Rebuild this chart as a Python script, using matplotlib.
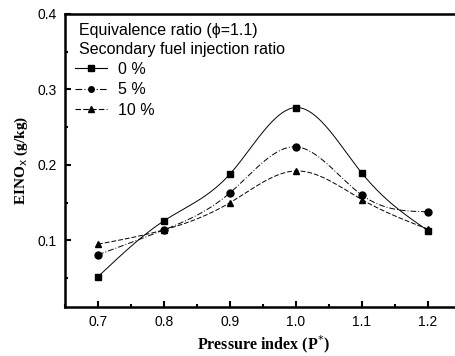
import numpy as np
import matplotlib
matplotlib.use('Agg')
import matplotlib.pyplot as plt
from matplotlib.ticker import MultipleLocator

pressure = [0.7, 0.8, 0.9, 1.0, 1.1, 1.2]
ei_0 = [0.052, 0.126, 0.188, 0.276, 0.189, 0.113]
ei_5 = [0.081, 0.114, 0.163, 0.224, 0.160, 0.138]
ei_10 = [0.095, 0.114, 0.150, 0.192, 0.154, 0.115]
labels = ['0 %', '5 %', '10 %']

plt.rcParams['font.family'] = ['Liberation Sans', 'DejaVu Sans']


def spline(x, y, n=200):
    # natural cubic spline, just for the smooth connecting curve
    x = np.asarray(x, float)
    y = np.asarray(y, float)
    k = len(x)
    h = np.diff(x)
    A = np.zeros((k, k))
    b = np.zeros(k)
    A[0, 0] = A[-1, -1] = 1
    for i in range(1, k - 1):
        A[i, i - 1] = h[i - 1]
        A[i, i] = 2 * (h[i - 1] + h[i])
        A[i, i + 1] = h[i]
        b[i] = 6 * ((y[i + 1] - y[i]) / h[i] - (y[i] - y[i - 1]) / h[i - 1])
    M = np.linalg.solve(A, b)
    xs = np.linspace(x[0], x[-1], n)
    idx = np.clip(np.searchsorted(x, xs) - 1, 0, k - 2)
    x0, x1 = x[idx], x[idx + 1]
    hh = x1 - x0
    t0, t1 = x1 - xs, xs - x0
    ys = (M[idx] * t0**3 + M[idx + 1] * t1**3) / (6 * hh) \
        + (y[idx] / hh - M[idx] * hh / 6) * t0 \
        + (y[idx + 1] / hh - M[idx + 1] * hh / 6) * t1
    return xs, ys


fig = plt.figure(figsize=(4.55, 3.56), dpi=100)
ax = fig.add_axes([0.143, 0.138, 0.87, 0.823])

styles = [('s', '-'), ('o', (0, (6, 2, 1, 2))), ('^', (0, (5, 2)))]
for vals, lab, (m, ls) in zip([ei_0, ei_5, ei_10], labels, styles):
    xs, ys = spline(pressure, vals)
    ax.plot(xs, ys, color='black', lw=0.7, linestyle=ls)
    ax.plot(pressure, vals, linestyle='none', marker=m, color='black', ms=5)
    ax.plot([], [], color='black', lw=0.8, linestyle=ls, marker=m, ms=4, label=lab)

ax.xaxis.set_major_locator(MultipleLocator(0.1))
ax.xaxis.set_minor_locator(MultipleLocator(0.05))
ax.yaxis.set_major_locator(MultipleLocator(0.1))
ax.yaxis.set_minor_locator(MultipleLocator(0.05))
ax.xaxis.set_major_formatter('{x:.1f}')
ax.yaxis.set_major_formatter('{x:.1f}')
ax.tick_params(which='both', direction='in', width=1.5, labelsize=10, pad=6)
ax.tick_params(which='major', length=4)
ax.tick_params(which='minor', length=2.5)
ax.set_xlim(0.65, 1.25)
ax.set_ylim(0.012, 0.4)
for s in ax.spines.values():
    s.set_linewidth(1.8)

ax.set_xlabel('Pressure index (P$^{*}$)', family='Liberation Serif', fontweight='bold', fontsize=11.5, labelpad=3)
ax.set_ylabel('EINO$_{\\mathrm{x}}$ (g/kg)', family='Liberation Serif', fontweight='bold', fontsize=11, labelpad=5)

ax.text(0.035, 0.97, 'Equivalence ratio (\u03d5=1.1)', transform=ax.transAxes,
        fontsize=11.5, va='top')
ax.text(0.035, 0.905, 'Secondary fuel injection ratio', transform=ax.transAxes,
        fontsize=11.5, va='top')
ax.legend(loc='upper left', bbox_to_anchor=(0.0, 0.87), frameon=False,
          prop={'size': 11.5}, handlelength=2.0,
          handletextpad=0.7, labelspacing=0.35, borderaxespad=0.2)

fig.savefig('out.png', dpi=100)
